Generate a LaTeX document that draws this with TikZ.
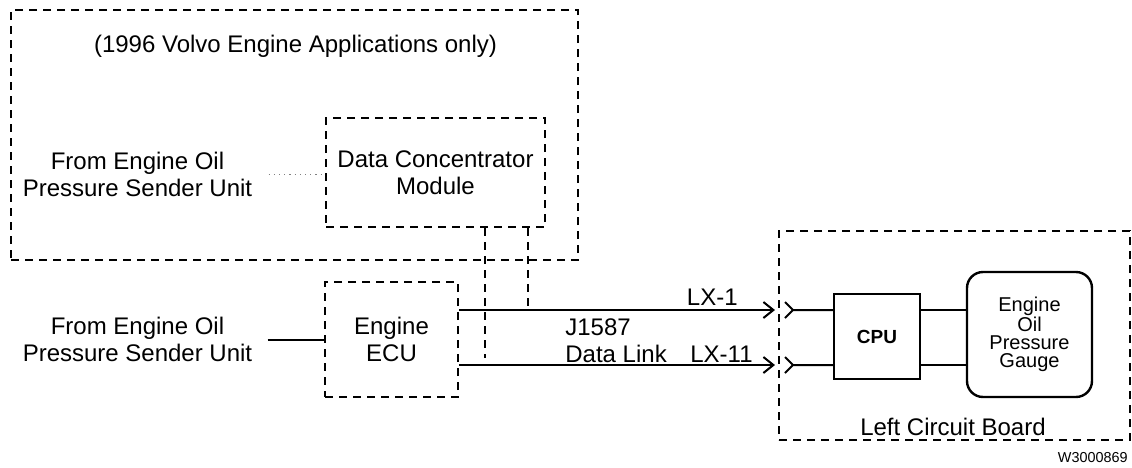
\documentclass[tikz,border=0pt]{standalone}
\usepackage{fontspec}
\setmainfont{Liberation Sans}
\usetikzlibrary{arrows.meta, positioning, calc}

\begin{document}
\begin{tikzpicture}[
  x=0.5pt, y=-0.5pt,
  font=\fontsize{12}{13.5}\selectfont,
  zone/.style={
    draw,
    dash pattern=on 4pt off 3pt,
    line width=1pt,
    inner sep=0pt,
  },
  blk/.style={
    draw,
    line width=1.2pt,
    inner sep=0pt,
  },
  tag/.style={inner sep=0pt},
  wire/.style={line width=1pt},
  tap/.style={dash pattern=on 4pt off 3pt, line width=1pt},
  barb/.style={-{Straight Barb[length=5pt, width=8pt]}},
]
  \useasboundingbox (0,0) rectangle (1132,467);

  % 1996 Volvo block
  \node[zone, minimum width=283.5pt, minimum height=125pt] (volvo) at (294.5,135) {};
  \node[anchor=base] (title) at (295.5,52) {(1996 Volvo Engine Applications only)};
  \node[zone, minimum width=109.5pt, minimum height=54.5pt, align=center] (dcm) at (435.5,172.5)
    {Data Concentrator\\Module};
  \node[align=center, inner xsep=8pt] (src1) at (137.5,174.5)
    {From Engine Oil\\Pressure Sender Unit};

  % engine side
  \node[zone, minimum width=66.5pt, minimum height=57.5pt, align=center] (ecu) at (391.5,339.5)
    {Engine\\ECU};
  \node[align=center, inner xsep=7.5pt] (src2) at (137.5,339.5)
    {From Engine Oil\\Pressure Sender Unit};

  % left circuit board
  \node[zone, minimum width=175.5pt, minimum height=104.5pt] (lcb) at (954.5,335.5) {};
  \node[blk, minimum width=43pt, minimum height=42.5pt,
    font=\fontsize{9.5}{11}\selectfont\bfseries] (cpu) at (877,336.5) {CPU};
  \node[blk, rounded corners=8pt, minimum width=62.5pt, minimum height=62.5pt,
    align=center, font=\fontsize{10}{9}\selectfont] (gauge) at (1029.5,334.5)
    {Engine\\Oil\\Pressure\\Gauge};
  \node[anchor=base] (board) at (953,435) {Left Circuit Board};
  \node[tag, anchor=base east, font=\fontsize{7.2}{8}\selectfont] (fig) at (1128,462) {W3000869};

  \coordinate (tip1) at (775,310);
  \coordinate (tip2) at (775,365);
  \coordinate (pin1) at (793,310);
  \coordinate (pin2) at (793,365);
  \coordinate (tap1) at (485,358);
  \coordinate (tap2) at (528,310);

  % data link
  \draw[wire, barb] (ecu.east |- tip1) -- (tip1);
  \draw[wire, barb] (ecu.east |- tip2) -- (tip2);
  \node[tag, anchor=base east] (lx1) at (738,305) {LX-1};
  \node[tag, anchor=base east] (lx11) at (753,362) {LX-11};
  \node[tag, anchor=base west, align=left] (link) at (565,362) {J1587\\Data Link};

  \draw[tap] (dcm.south -| tap1) -- (tap1);
  \draw[tap] (dcm.south -| tap2) -- (tap2);

  \draw[dotted, gray, line width=0.6pt] (src1.east) -- (src1.east -| dcm.west);
  \draw[wire] (src2.east) -- (src2.east -| ecu.west);

  % connectors into the board
  \draw[wire] (cpu.west |- pin1) -- (pin1) -- ++(-8,-8) (pin1) -- ++(-8,8);
  \draw[wire] (cpu.west |- pin2) -- (pin2) -- ++(-8,-8) (pin2) -- ++(-8,8);
  \draw[wire] (cpu.east |- pin1) -- (gauge.west |- pin1);
  \draw[wire] (cpu.east |- pin2) -- (gauge.west |- pin2);
\end{tikzpicture}
\end{document}
